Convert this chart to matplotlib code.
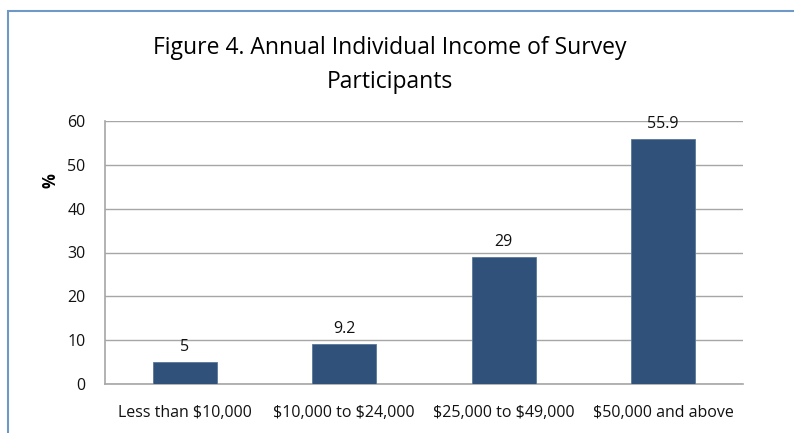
import matplotlib.pyplot as plt
from matplotlib.patches import Rectangle

categories = ['Less than $10,000', '$10,000 to $24,000', '$25,000 to $49,000', '$50,000 and above']
values = [5, 9.2, 29, 55.9]
value_labels = ['5', '9.2', '29', '55.9']

plt.rcParams['font.family'] = ['Open Sans', 'DejaVu Sans']
plt.rcParams['text.parse_math'] = False

W, H = 794, 433
fig = plt.figure(figsize=(W / 100, H / 100), dpi=100)

# outer chart border (cut off at right and bottom like the reference)
fig.patches.append(Rectangle((8 / W, -0.1), 1.1, (H - 11) / H + 0.1, transform=fig.transFigure,
                             fill=False, edgecolor='#6E98C6', linewidth=1.5))

ax = fig.add_axes([105 / W, (H - 384) / H, (743 - 105) / W, (384 - 121) / H])

x = range(len(categories))
ax.bar(x, values, width=0.4, color='#30527A', edgecolor='#5A7898', linewidth=0.6, zorder=3)
for xi, v, lab in zip(x, values, value_labels):
    ax.text(xi, v + 1.6, lab, ha='center', va='bottom', fontsize=11.5, color='#111111', zorder=4)

ax.set_xlim(-0.5, 3.5)
ax.set_ylim(0, 60)
ax.set_yticks(range(0, 61, 10))
ax.set_xticks(list(x))
ax.set_xticklabels(categories)
ax.tick_params(axis='both', length=0, labelsize=11.5, colors='#111111')
ax.tick_params(axis='y', pad=14)
ax.tick_params(axis='x', pad=15)
ax.grid(axis='y', color='#A6A6A6', linewidth=1, zorder=0)
for s in ['top', 'right']:
    ax.spines[s].set_visible(False)
for s in ['left', 'bottom']:
    ax.spines[s].set_color('#A6A6A6')
    ax.spines[s].set_linewidth(1.2)

fig.text(50 / W, 1 - 181 / H, '%', rotation=90, fontsize=12, fontweight='bold',
         ha='center', va='center')
fig.text(390 / W, 1 - 65 / H, 'Figure 4. Annual Individual Income of Survey\nParticipants',
         ha='center', va='center', fontsize=16.5, linespacing=1.6)

plt.savefig('out.png', dpi=100)
